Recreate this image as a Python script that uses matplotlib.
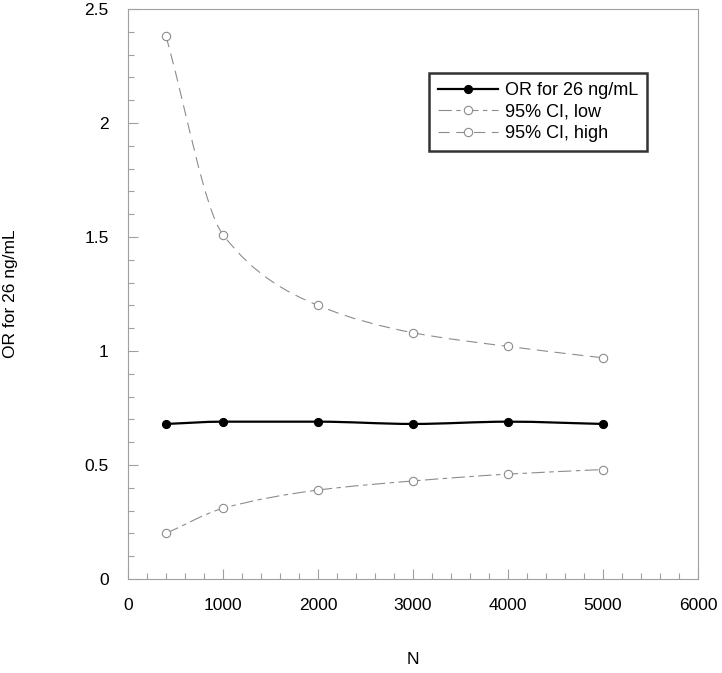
import numpy as np
import matplotlib
matplotlib.use("Agg")
import matplotlib.pyplot as plt
from matplotlib.path import Path
from matplotlib.patches import PathPatch
from matplotlib.lines import Line2D
from matplotlib.ticker import MultipleLocator, FormatStrFormatter

plt.rcParams["font.family"] = ["Liberation Sans", "DejaVu Sans"]

n_values = [400, 1000, 2000, 3000, 4000, 5000]
or_values = [0.68, 0.69, 0.69, 0.68, 0.69, 0.68]
ci_low = [0.20, 0.31, 0.39, 0.43, 0.46, 0.48]
ci_high = [2.38, 1.51, 1.20, 1.08, 1.02, 0.97]

series_labels = ["OR for 26 ng/mL", "95% CI, low", "95% CI, high"]
x_label = "N"
y_label = "OR for 26 ng/mL"


def smooth_path(x, y):
    # monotone cubic (Fritsch-Carlson) turned into bezier segments
    x = np.asarray(x, float)
    y = np.asarray(y, float)
    h = np.diff(x)
    d = np.diff(y) / h
    m = np.zeros_like(y)
    m[0], m[-1] = d[0], d[-1]
    for i in range(1, len(x) - 1):
        if d[i - 1] * d[i] <= 0:
            m[i] = 0
        else:
            w1 = 2 * h[i] + h[i - 1]
            w2 = h[i] + 2 * h[i - 1]
            m[i] = (w1 + w2) / (w1 / d[i - 1] + w2 / d[i])
    verts = [(x[0], y[0])]
    codes = [Path.MOVETO]
    for i in range(len(x) - 1):
        verts += [(x[i] + h[i] / 3, y[i] + m[i] * h[i] / 3),
                  (x[i + 1] - h[i] / 3, y[i + 1] - m[i + 1] * h[i] / 3),
                  (x[i + 1], y[i + 1])]
        codes += [Path.CURVE4] * 3
    return Path(verts, codes)


fig = plt.figure(figsize=(7.22, 6.73), dpi=100)
ax = fig.add_axes([0.1773, 0.1397, 0.7895, 0.8469])

gray = "#8c8c8c"
styles = [
    dict(values=or_values, color="black", lw=1.6, ls="-", mfc="black", ms=5.8),
    dict(values=ci_low, color=gray, lw=0.8, ls=(0, (12, 4, 4, 4)), mfc="white", ms=6.0),
    dict(values=ci_high, color=gray, lw=0.8, ls=(0, (10, 6)), mfc="white", ms=6.0),
]

handles = []
for st, lab in zip(styles, series_labels):
    patch = PathPatch(smooth_path(n_values, st["values"]), fill=False,
                      edgecolor=st["color"], lw=st["lw"], ls=st["ls"],
                      transform=ax.transData, zorder=2)
    ax.add_patch(patch)
    ax.plot(n_values, st["values"], ls="none", marker="o", ms=st["ms"],
            mfc=st["mfc"], mec=st["color"], mew=0.8, zorder=3)
    handles.append(Line2D([], [], color=st["color"], lw=st["lw"], ls=st["ls"],
                          marker="o", ms=st["ms"], mfc=st["mfc"],
                          mec=st["color"], mew=0.8, label=lab))

ax.set_xlim(0, 6000)
ax.set_ylim(0, 2.5)
ax.xaxis.set_major_locator(MultipleLocator(1000))
ax.xaxis.set_minor_locator(MultipleLocator(200))
ax.yaxis.set_major_locator(MultipleLocator(0.5))
ax.yaxis.set_minor_locator(MultipleLocator(0.1))
ax.yaxis.set_major_formatter(FormatStrFormatter("%g"))

for sp in ax.spines.values():
    sp.set_color("#a0a0a0")
    sp.set_linewidth(0.8)
ax.tick_params(which="both", direction="in", color="#a0a0a0", width=0.8,
               top=False, right=False, labelsize=12.5)
ax.tick_params(which="major", length=7, pad=14)
ax.tick_params(which="minor", length=4)

ax.set_xlabel(x_label, fontsize=12.5, labelpad=28)
ax.set_ylabel(y_label, fontsize=12.5, labelpad=48)

leg = ax.legend(handles=handles, loc="upper right",
                bbox_to_anchor=(0.9105, 0.8877), borderaxespad=0,
                fontsize=13, frameon=True, fancybox=False, handlelength=3.3,
                borderpad=0.5, labelspacing=0.25, handletextpad=0.4)
leg.get_frame().set_edgecolor("black")
leg.get_frame().set_linewidth(1.8)

fig.savefig("out.png", dpi=100)
